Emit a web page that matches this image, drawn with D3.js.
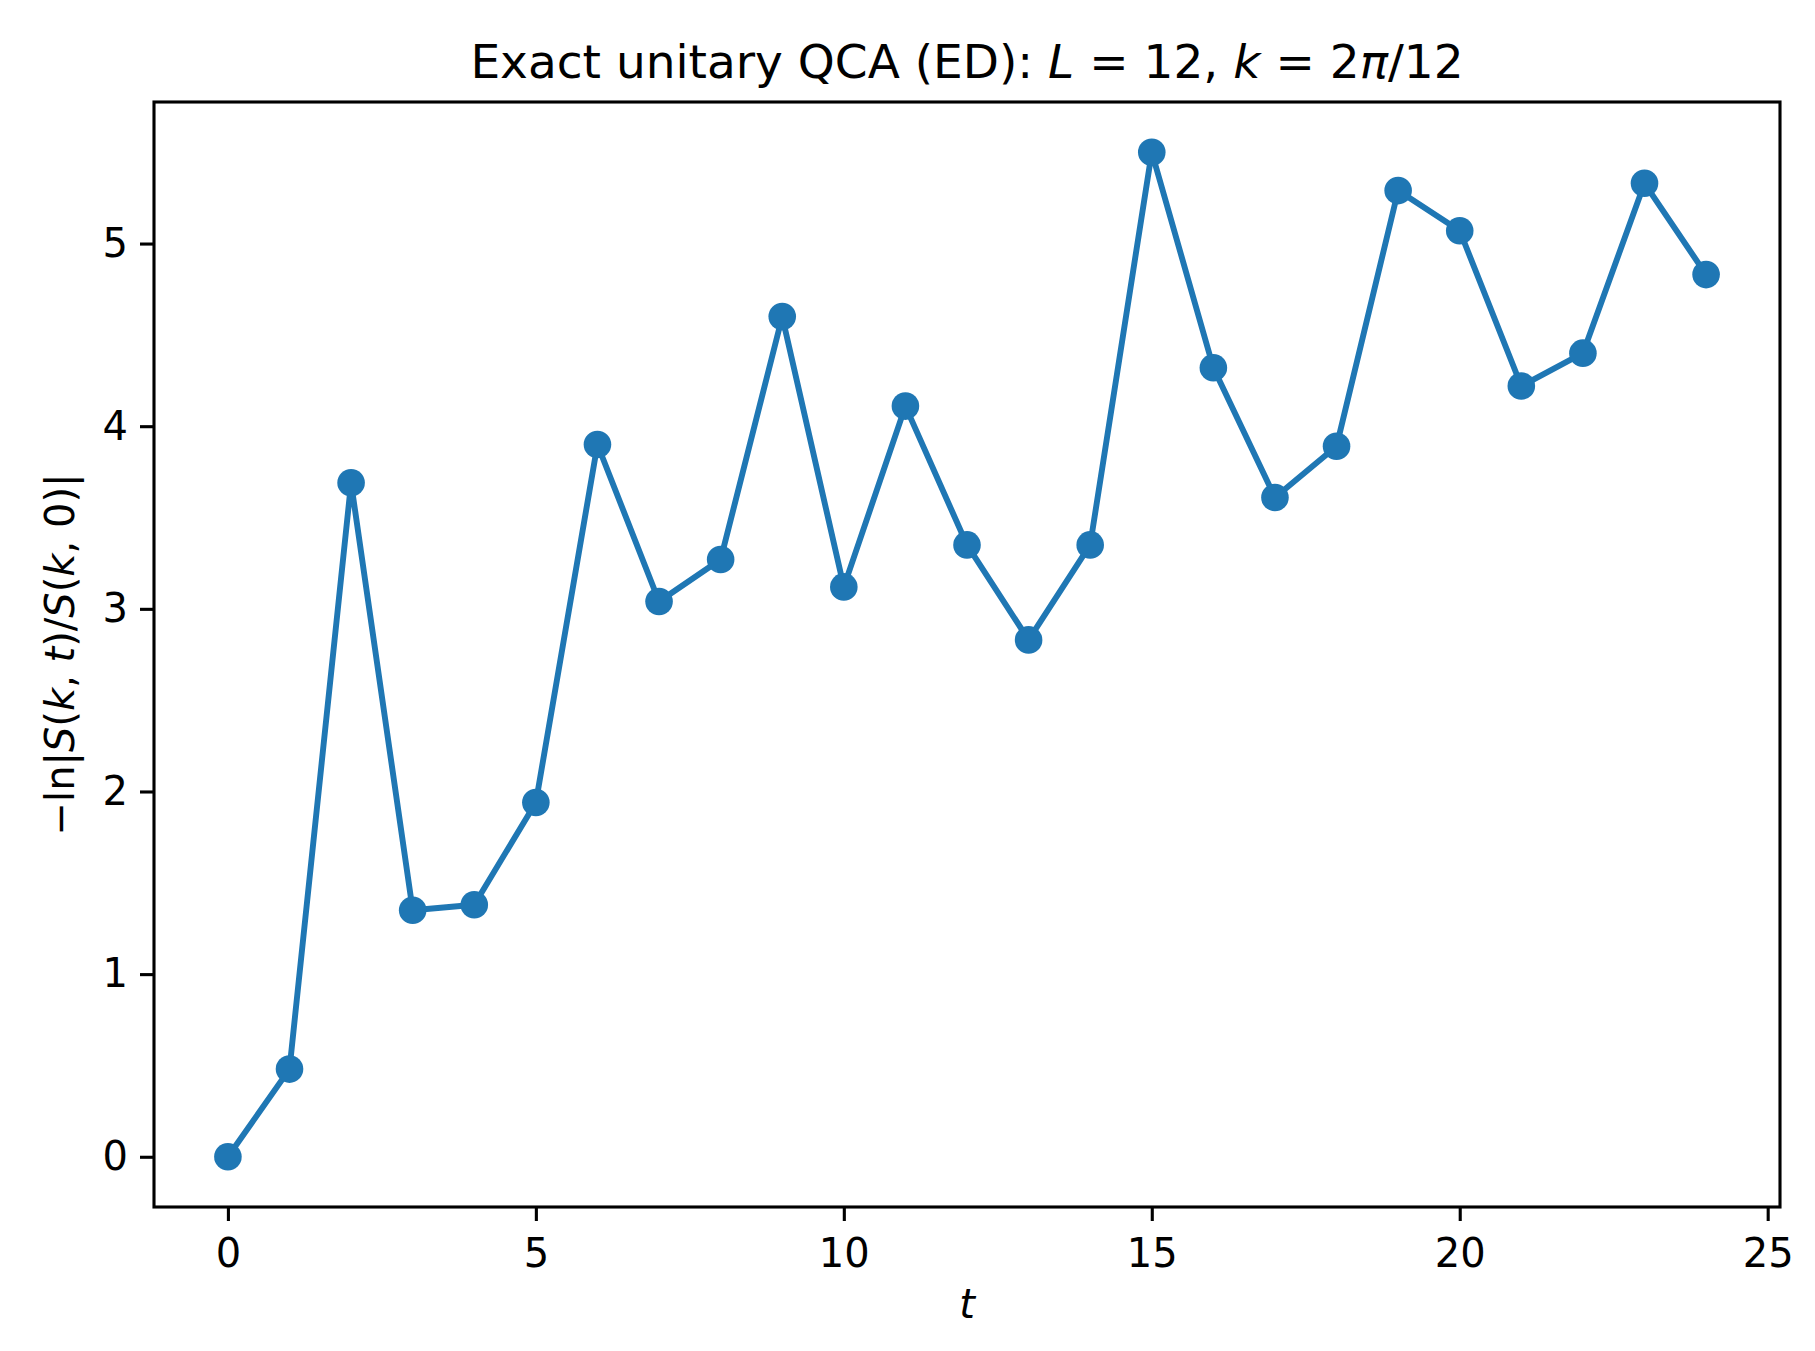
<!DOCTYPE html>
<html>
<head>
<meta charset="utf-8">
<script src="https://cdn.jsdelivr.net/npm/d3@7"></script>
<style>
  body { margin: 0; background: #fff; }
  text { font-family: "DejaVu Sans", sans-serif; fill: #000; }
</style>
</head>
<body>
<div id="chart"></div>
<script>
// data
const tValues = [0, 1, 2, 3, 4, 5, 6, 7, 8, 9, 10, 11, 12, 13, 14, 15, 16, 17, 18, 19, 20, 21, 22, 23, 24];
const decayValues = [0, 0.48, 3.69, 1.35, 1.38, 1.94, 3.90, 3.04, 3.27, 4.60, 3.12, 4.11, 3.35, 2.83, 3.35,
  5.50, 4.32, 3.61, 3.89, 5.29, 5.07, 4.22, 4.40, 5.33, 4.83];
const xTicks = [0, 5, 10, 15, 20, 25];
const yTicks = [0, 1, 2, 3, 4, 5];

// size of the figure and the axes box
const width = 1815,
  height = 1351;
const margin = { top: 102, right: 35, bottom: 144, left: 154 };
const plotW = width - margin.left - margin.right,
  plotH = height - margin.top - margin.bottom;

const color = "#1f77b4";

const svg = d3.select("#chart")
  .append("svg")
  .attr("width", width)
  .attr("height", height);

// matplotlib style 5% margins around the data
const xPad = (d3.max(tValues) - d3.min(tValues)) * 0.05;
const yPad = (d3.max(decayValues) - d3.min(decayValues)) * 0.05;

const x = d3.scaleLinear()
  .domain([d3.min(tValues) - xPad, d3.max(tValues) + xPad])
  .range([0, plotW]);
const y = d3.scaleLinear()
  .domain([d3.min(decayValues) - yPad, d3.max(decayValues) + yPad])
  .range([plotH, 0]);

const g = svg.append("g")
  .attr("transform", `translate(${margin.left}, ${margin.top})`);

// axes
const xAxis = g.append("g")
  .attr("transform", `translate(0, ${plotH})`)
  .call(d3.axisBottom(x).tickValues(xTicks).tickSize(14).tickPadding(12).tickFormat(d3.format("d")));
const yAxis = g.append("g")
  .call(d3.axisLeft(y).tickValues(yTicks).tickSize(14).tickPadding(12).tickFormat(d3.format("d")));

[xAxis, yAxis].forEach(a => {
  a.select(".domain").remove();
  a.selectAll(".tick line").attr("stroke", "#000").attr("stroke-width", 3.1);
  a.selectAll(".tick text").style("font-size", "40px").attr("fill", "#000");
});
xAxis.selectAll(".tick text").attr("dy", "0.85em");

// the line and the markers
const line = d3.line()
  .x((d, i) => x(tValues[i]))
  .y(d => y(d));

g.append("path")
  .datum(decayValues)
  .attr("d", line)
  .attr("fill", "none")
  .attr("stroke", color)
  .attr("stroke-width", 5.9)
  .attr("stroke-linejoin", "round");

g.selectAll("circle.pt")
  .data(decayValues)
  .join("circle")
  .attr("class", "pt")
  .attr("cx", (d, i) => x(tValues[i]))
  .attr("cy", d => y(d))
  .attr("r", 13.8)
  .attr("fill", color);

// frame
g.append("rect")
  .attr("width", plotW)
  .attr("height", plotH)
  .attr("fill", "none")
  .attr("stroke", "#000")
  .attr("stroke-width", 3.1);

// title
const title = svg.append("text")
  .attr("x", margin.left + plotW / 2)
  .attr("y", 78)
  .attr("text-anchor", "middle")
  .style("font-size", "47px");
title.append("tspan").text("Exact unitary QCA (ED): ");
title.append("tspan").attr("font-style", "italic").text("L");
title.append("tspan").text(" = 12, ");
title.append("tspan").attr("font-style", "italic").text("k");
title.append("tspan").text(" = 2");
title.append("tspan").attr("font-style", "italic").text("π");
title.append("tspan").text("/12");

// x label
svg.append("text")
  .attr("x", margin.left + plotW / 2)
  .attr("y", 1318)
  .attr("text-anchor", "middle")
  .attr("font-style", "italic")
  .style("font-size", "40px")
  .text("t");

// y label
const ylab = svg.append("text")
  .attr("transform", `translate(74, ${margin.top + plotH / 2}) rotate(-90)`)
  .attr("text-anchor", "middle")
  .style("font-size", "40px");
const parts = [["−ln|", false], ["S", true], ["(", false], ["k", true], [", ", false], ["t", true],
  [")/", false], ["S", true], ["(", false], ["k", true], [", 0)|", false]];
parts.forEach(p => {
  ylab.append("tspan").attr("font-style", p[1] ? "italic" : null).text(p[0]);
});
</script>
</body>
</html>
